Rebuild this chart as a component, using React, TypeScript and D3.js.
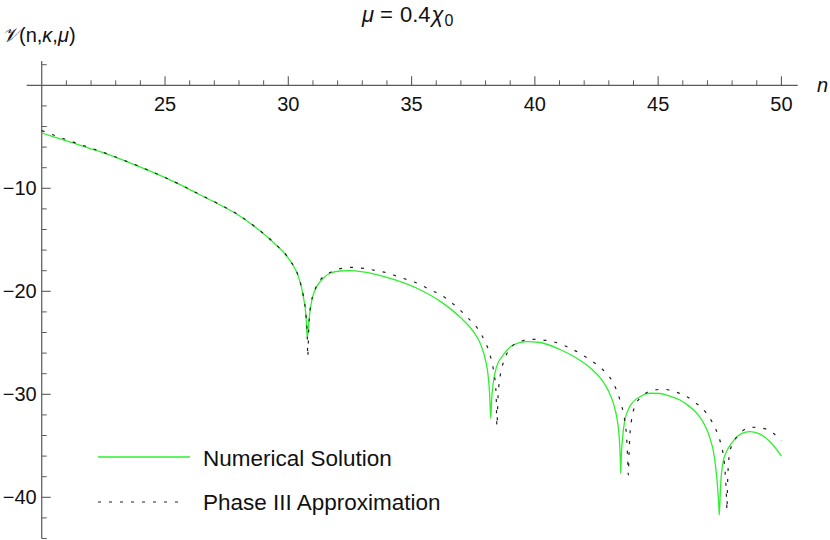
import React from 'react';
import * as d3 from 'd3';

const numericalSolution: [number, number][] = [
  [20.0, -4.63], [21.2, -5.55], [22.4, -6.47], [23.6, -7.55], [24.8, -8.75],
  [25.61, -9.65], [26.35, -10.55], [27.16, -11.52], [27.97, -12.59], [28.72, -13.88],
  [29.43, -15.34], [30.07, -17.03], [30.41, -18.58], [30.61, -20.52], [30.72, -22.47],
  [30.77, -24.56], [30.83, -23.0], [30.9, -21.6], [31.01, -20.36], [31.15, -19.55],
  [31.42, -18.74], [31.69, -18.25], [32.1, -18.03], [32.5, -18.0], [32.95, -18.08],
  [33.45, -18.3], [34.4, -18.95], [35.34, -19.85], [36.15, -20.95], [36.96, -22.5],
  [37.5, -23.9], [37.81, -25.2], [38.01, -26.8], [38.11, -28.3], [38.16, -29.8],
  [38.19, -31.3], [38.21, -32.3], [38.25, -30.4], [38.31, -28.93], [38.45, -27.32],
  [38.72, -26.18], [39.12, -25.21], [39.67, -24.89], [40.21, -24.97], [41.02, -25.65],
  [41.7, -26.5], [42.3, -27.55], [42.7, -28.55], [43.0, -29.75], [43.2, -31.0],
  [43.32, -32.2], [43.4, -33.6], [43.44, -34.9], [43.465, -36.3], [43.48, -37.67],
  [43.51, -35.8], [43.56, -34.12], [43.65, -32.5], [43.85, -31.2], [44.26, -30.23],
  [44.67, -29.9], [45.07, -29.92], [45.34, -30.07], [45.88, -30.55], [46.2, -31.05],
  [46.49, -31.65], [46.7, -32.25], [46.88, -32.95], [47.03, -33.75], [47.13, -34.5],
  [47.23, -35.4], [47.34, -37.2], [47.41, -39.0], [47.46, -40.8], [47.48, -41.72],
  [47.53, -38.97], [47.64, -36.5], [47.74, -35.75], [47.84, -35.25], [48.11, -34.35],
  [48.39, -33.8], [48.72, -33.63], [49.06, -33.79], [49.54, -34.6], [50.0, -36.0],
];

const phaseIIIApproximation: [number, number][] = [
  [20.0, -4.4], [21.2, -5.45], [22.4, -6.43], [23.6, -7.53], [24.8, -8.73],
  [25.61, -9.63], [26.35, -10.53], [27.16, -11.5], [27.97, -12.57], [28.72, -13.86],
  [29.43, -15.32], [30.07, -17.0], [30.41, -18.55], [30.61, -20.45], [30.72, -22.4],
  [30.77, -24.4], [30.79, -26.35], [30.83, -23.6], [30.88, -21.82], [31.08, -19.87],
  [31.35, -18.74], [31.76, -18.1], [32.17, -17.77], [32.64, -17.67], [33.04, -17.77],
  [33.58, -18.0], [34.06, -18.25], [34.46, -18.58], [34.94, -18.97], [35.34, -19.32],
  [35.75, -19.87], [36.15, -20.29], [36.57, -21.0], [36.94, -21.75], [37.23, -22.47],
  [37.57, -23.27], [37.84, -24.24], [38.18, -26.18], [38.31, -27.48], [38.43, -30.0],
  [38.46, -33.1], [38.5, -30.5], [38.58, -28.45], [38.79, -26.5], [39.06, -25.38],
  [39.46, -24.83], [39.87, -24.66], [40.34, -24.73], [40.82, -24.95], [41.5, -25.6],
  [42.2, -26.6], [42.77, -27.64], [43.11, -28.61], [43.45, -30.55], [43.59, -31.84],
  [43.72, -34.12], [43.76, -36.06], [43.79, -37.83], [43.82, -35.8], [43.85, -34.12],
  [43.92, -32.5], [44.05, -31.2], [44.33, -30.23], [44.74, -29.65], [45.21, -29.51],
  [45.68, -29.75], [46.09, -30.13], [46.49, -30.78], [46.83, -31.46], [47.1, -32.33],
  [47.34, -33.4], [47.5, -34.44], [47.62, -35.57], [47.71, -37.35], [47.77, -39.9],
  [47.79, -41.23], [47.82, -38.3], [47.86, -36.5], [47.91, -35.57], [48.07, -34.6],
  [48.39, -33.63], [48.79, -33.2], [49.26, -33.3], [49.67, -33.79], [50.0, -34.5],
];

const xMajorTicks = [25, 30, 35, 40, 45, 50];
const yMajorTicks = [-10, -20, -30, -40];
const legendLabels = ['Numerical Solution', 'Phase III Approximation'];

const FONT = "'Liberation Sans', Arial, Helvetica, sans-serif";

export default function App() {
  const W = 830;
  const H = 540;
  const x = d3.scaleLinear().domain([19.39, 50.66]).range([26.7, 797.7]);
  const y = d3.scaleLinear().domain([2.36, -44]).range([61, 538.5]);

  const xMinor = d3.range(21, 51).filter((v) => !xMajorTicks.includes(v));
  const yMinor = d3.range(2, -45, -2).filter((v) => v !== 0 && !yMajorTicks.includes(v));

  const line = d3
    .line<[number, number]>()
    .x((d) => x(d[0]))
    .y((d) => y(d[1]))
    .curve(d3.curveMonotoneX);

  const x0 = x(20);
  const y0 = y(0);
  const axisColor = '#5a5a5a';
  const green = '#2ef02e';
  const dash = '3,8';

  return (
    <svg
      width={W}
      height={H}
      style={{ position: 'absolute', left: 0, top: 0, background: '#fff' }}
      fontFamily={FONT}
    >
      <rect x={0} y={0} width={W} height={H} fill="#fff" />
      {/* Title */}
      <text x={362} y={22} fontSize={22} fill="#111">
        <tspan fontStyle="italic">μ</tspan>
        <tspan dx={6}>=</tspan>
        <tspan dx={7}>0.4</tspan>
        <tspan fontStyle="italic" dx={1}>χ</tspan>
        <tspan fontSize={16} dy={4} dx={1}>0</tspan>
      </text>
      {/* Y label */}
      <text x={2} y={42} fontSize={20} fill="#111">
        <tspan fontFamily="'DejaVu Serif', 'DejaVu Sans', serif" fontStyle="italic">𝒱</tspan>
        <tspan>(n,</tspan>
        <tspan fontStyle="italic">κ</tspan>
        <tspan>,</tspan>
        <tspan fontStyle="italic">μ</tspan>
        <tspan>)</tspan>
      </text>
      {/* X label */}
      <text x={817} y={92} fontSize={20} fontStyle="italic" fill="#111">n</text>

      {/* Axes */}
      <line x1={x.range()[0]} x2={x.range()[1]} y1={y0} y2={y0} stroke={axisColor} strokeWidth={1.2} />
      <line x1={x0} x2={x0} y1={y.range()[0]} y2={y.range()[1]} stroke={axisColor} strokeWidth={1.2} />

      {xMajorTicks.map((t) => (
        <g key={'xM' + t}>
          <line x1={x(t)} x2={x(t)} y1={y0} y2={y0 - 9} stroke={axisColor} strokeWidth={1.1} />
          <text x={x(t)} y={y0 + 26} fontSize={20} textAnchor="middle" fill="#111">
            {t}
          </text>
        </g>
      ))}
      {xMinor.map((t) => (
        <line key={'xm' + t} x1={x(t)} x2={x(t)} y1={y0} y2={y0 - 5} stroke={axisColor} strokeWidth={1} />
      ))}
      {yMajorTicks.map((t) => (
        <g key={'yM' + t}>
          <line x1={x0} x2={x0 + 9} y1={y(t)} y2={y(t)} stroke={axisColor} strokeWidth={1.1} />
          <text x={x0 - 5} y={y(t) + 7} fontSize={20} textAnchor="end" fill="#111">
            {'\u2212' + Math.abs(t)}
          </text>
        </g>
      ))}
      {yMinor.map((t) => (
        <line key={'ym' + t} x1={x0} x2={x0 + 5} y1={y(t)} y2={y(t)} stroke={axisColor} strokeWidth={1} />
      ))}

      {/* Curves */}
      <path d={line(numericalSolution) || ''} fill="none" stroke={green} strokeWidth={1.3} />
      <path
        d={line(phaseIIIApproximation) || ''}
        fill="none"
        stroke="#222"
        strokeWidth={1.2}
        strokeDasharray={dash}
      />

      {/* Legend */}
      <line x1={98} x2={190} y1={457} y2={457} stroke={green} strokeWidth={1.3} />
      <text x={203} y={466} fontSize={22.5} fill="#111">{legendLabels[0]}</text>
      <line x1={98} x2={184} y1={502} y2={502} stroke="#222" strokeWidth={1.2} strokeDasharray={dash} />
      <text x={203} y={510} fontSize={22.5} fill="#111">{legendLabels[1]}</text>
    </svg>
  );
}
